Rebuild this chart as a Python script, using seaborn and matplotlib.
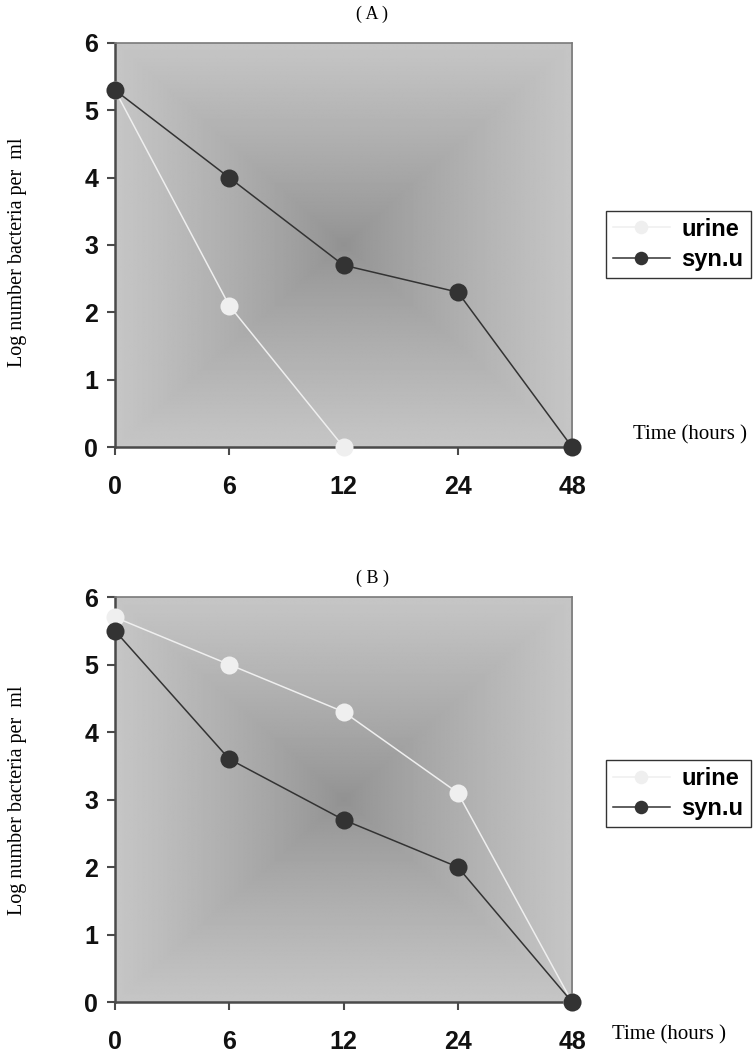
import numpy as np
import pandas as pd
import matplotlib.pyplot as plt
import seaborn as sns

# values
HOURS = ['0', '6', '12', '24', '48']
A_URINE = [5.3, 2.1, 0.0]
A_SYNU = [5.3, 4.0, 2.7, 2.3, 0.0]
B_URINE = [5.7, 5.0, 4.3, 3.1, 0.0]
B_SYNU = [5.5, 3.6, 2.7, 2.0, 0.0]
SERIES = ['urine', 'syn.u']
PALETTE = {'urine': '#efefef', 'syn.u': '#333333'}

plt.rcParams['font.family'] = ['Liberation Sans', 'DejaVu Sans']


def make_df(urine, synu):
    rows = [(HOURS[i], v, 'urine') for i, v in enumerate(urine)]
    rows += [(HOURS[i], v, 'syn.u') for i, v in enumerate(synu)]
    return pd.DataFrame(rows, columns=['time', 'log', 'medium'])


# rectangular "from centre" gradient like the Excel plot area
n = 400
u = np.abs(np.linspace(-1, 1, n))
d = np.maximum(u[None, :], u[:, None])
grad = 0.57 + (0.775 - 0.57) * d ** 0.85


def panel(ax, df, legend_top):
    ax.imshow(grad, extent=(0, 1, 0, 1), transform=ax.transAxes, cmap='gray',
              vmin=0, vmax=1, aspect='auto', zorder=0, interpolation='bilinear')
    sns.pointplot(data=df, x='time', y='log', hue='medium', order=HOURS,
                  hue_order=SERIES, palette=PALETTE, markers='o',
                  markersize=13, linewidth=1.1, errorbar=None, ax=ax)
    for ln in ax.lines:
        ln.set_clip_on(False)
        ln.set_zorder(3)
        ln.set_markeredgewidth(0)
    ax.set_xlim(0, 4)
    ax.set_ylim(0, 6)
    ax.set_yticks(range(7))
    ax.set_xlabel('')
    ax.set_ylabel('')
    for s in ['left', 'bottom']:
        ax.spines[s].set_color('#4a4a4a')
        ax.spines[s].set_linewidth(1.8)
    for s in ['top', 'right']:
        ax.spines[s].set_color('#7a7a7a')
        ax.spines[s].set_linewidth(1.2)
    ax.tick_params(axis='both', direction='out', length=6, width=1.5,
                   color='#4a4a4a', labelsize=18)
    ax.tick_params(axis='x', pad=14)
    ax.tick_params(axis='y', pad=6)
    for t in ax.get_xticklabels() + ax.get_yticklabels():
        t.set_fontweight('bold')
        t.set_color('#111111')
    handles, labels = ax.get_legend_handles_labels()
    leg = ax.legend(handles, labels, loc='upper left',
                    bbox_to_anchor=(1.074, legend_top), borderaxespad=0,
                    frameon=True, fancybox=False, edgecolor='black',
                    prop={'weight': 'bold', 'size': 17}, handlelength=2.4,
                    handletextpad=0.5, labelspacing=0.3, borderpad=0.3,
                    markerscale=0.75)
    leg.get_frame().set_linewidth(1.0)


fig = plt.figure(figsize=(7.53, 10.56), dpi=100)
axA = fig.add_axes([0.1527, 0.5767, 0.607, 0.3826])
axB = fig.add_axes([0.1527, 0.0511, 0.607, 0.3835])

panel(axA, make_df(A_URINE, A_SYNU), 0.585)
panel(axB, make_df(B_URINE, B_SYNU), 0.598)

serif = ['Liberation Serif', 'DejaVu Serif']
fig.text(372 / 753, 1 - 14 / 1056, '( A )', ha='center', va='center',
         family=serif, fontsize=13)
fig.text(372 / 753, 1 - 578 / 1056, '( B )', ha='center', va='center',
         family=serif, fontsize=13)
fig.text(18 / 753, 0.761, 'Log number bacteria per  ml', rotation=90,
         ha='center', va='center', family=serif, fontsize=14.5)
fig.text(18 / 753, 0.2424, 'Log number bacteria per  ml', rotation=90,
         ha='center', va='center', family=serif, fontsize=14.5)
fig.text(633 / 753, 1 - 435 / 1056, 'Time (hours )', ha='left', va='center',
         family=serif, fontsize=15)
fig.text(612 / 753, 1 - 1035 / 1056, 'Time (hours )', ha='left', va='center',
         family=serif, fontsize=15)

fig.savefig('out.png', dpi=100)
